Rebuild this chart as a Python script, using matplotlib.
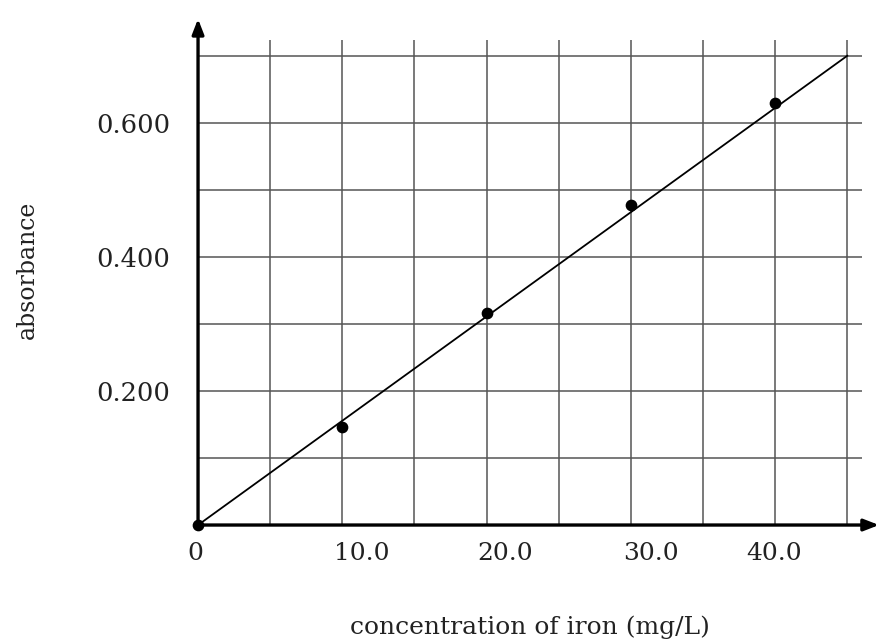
import numpy as np
import matplotlib
matplotlib.use("Agg")
import matplotlib.pyplot as plt

# data
conc = [0, 10.0, 20.0, 30.0, 40.0]
absorb = [0, 0.146, 0.317, 0.478, 0.629]
fit_x = [0, 45]
fit_y = [0, 0.700]

xtick_vals = [0, 10, 20, 30, 40]
xtick_labels = ["0", "10.0", "20.0", "30.0", "40.0"]
ytick_vals = [0.2, 0.4, 0.6]
ytick_labels = ["0.200", "0.400", "0.600"]

# the x labels in the original are not all centred under their ticks (pixels)
xlabel_shift = [-3, 19, 19, 20, -1]

plt.rcParams["font.family"] = ["DejaVu Serif"]

fig = plt.figure(figsize=(8.79, 6.42), dpi=100)
ax = fig.add_axes([0.2253, 0.1822, 0.7747, 0.7988])
ax.set_xlim(0, 47.2)
ax.set_ylim(0, 0.765)

# grid
gx = np.arange(5, 50, 5)
gy = np.arange(0.1, 0.75, 0.1)
ax.vlines(gx, 0, 0.724, color="#555555", lw=1.1, zorder=1)
ax.hlines(gy, 0, 46.0, color="#555555", lw=1.1, zorder=1)

# axes with arrows
arrow = dict(arrowstyle="-|>,head_length=0.9,head_width=0.35",
             color="black", lw=2.4, shrinkA=0, shrinkB=0)
ax.annotate("", xy=(47.2, 0), xytext=(0, 0), arrowprops=arrow,
            annotation_clip=False, zorder=3)
ax.annotate("", xy=(0, 0.755), xytext=(0, 0), arrowprops=arrow,
            annotation_clip=False, zorder=3)

ax.plot(fit_x, fit_y, color="black", lw=1.3, zorder=2)
ax.scatter(conc, absorb, s=55, color="black", zorder=4, clip_on=False)

for s in ax.spines.values():
    s.set_visible(False)

ax.set_xticks([])
for x, lbl, dx in zip(xtick_vals, xtick_labels, xlabel_shift):
    ax.annotate(lbl, (x, 0), xytext=(dx, -28), textcoords="offset pixels",
                ha="center", va="center", fontsize=18, color="#222222",
                annotation_clip=False)

ax.set_yticks(ytick_vals)
ax.set_yticklabels(ytick_labels, fontsize=18.5, color="#222222")
ax.tick_params(axis="y", length=0, pad=20)

ax.set_xlabel("concentration of iron (mg/L)", fontsize=18, color="#222222", va="center")
ax.xaxis.set_label_coords(0.4875, -0.199)
ax.set_ylabel("absorbance", fontsize=17, color="#222222", va="center")
ax.yaxis.set_label_coords(-0.251, 0.497)

fig.savefig("out.png", dpi=100)
